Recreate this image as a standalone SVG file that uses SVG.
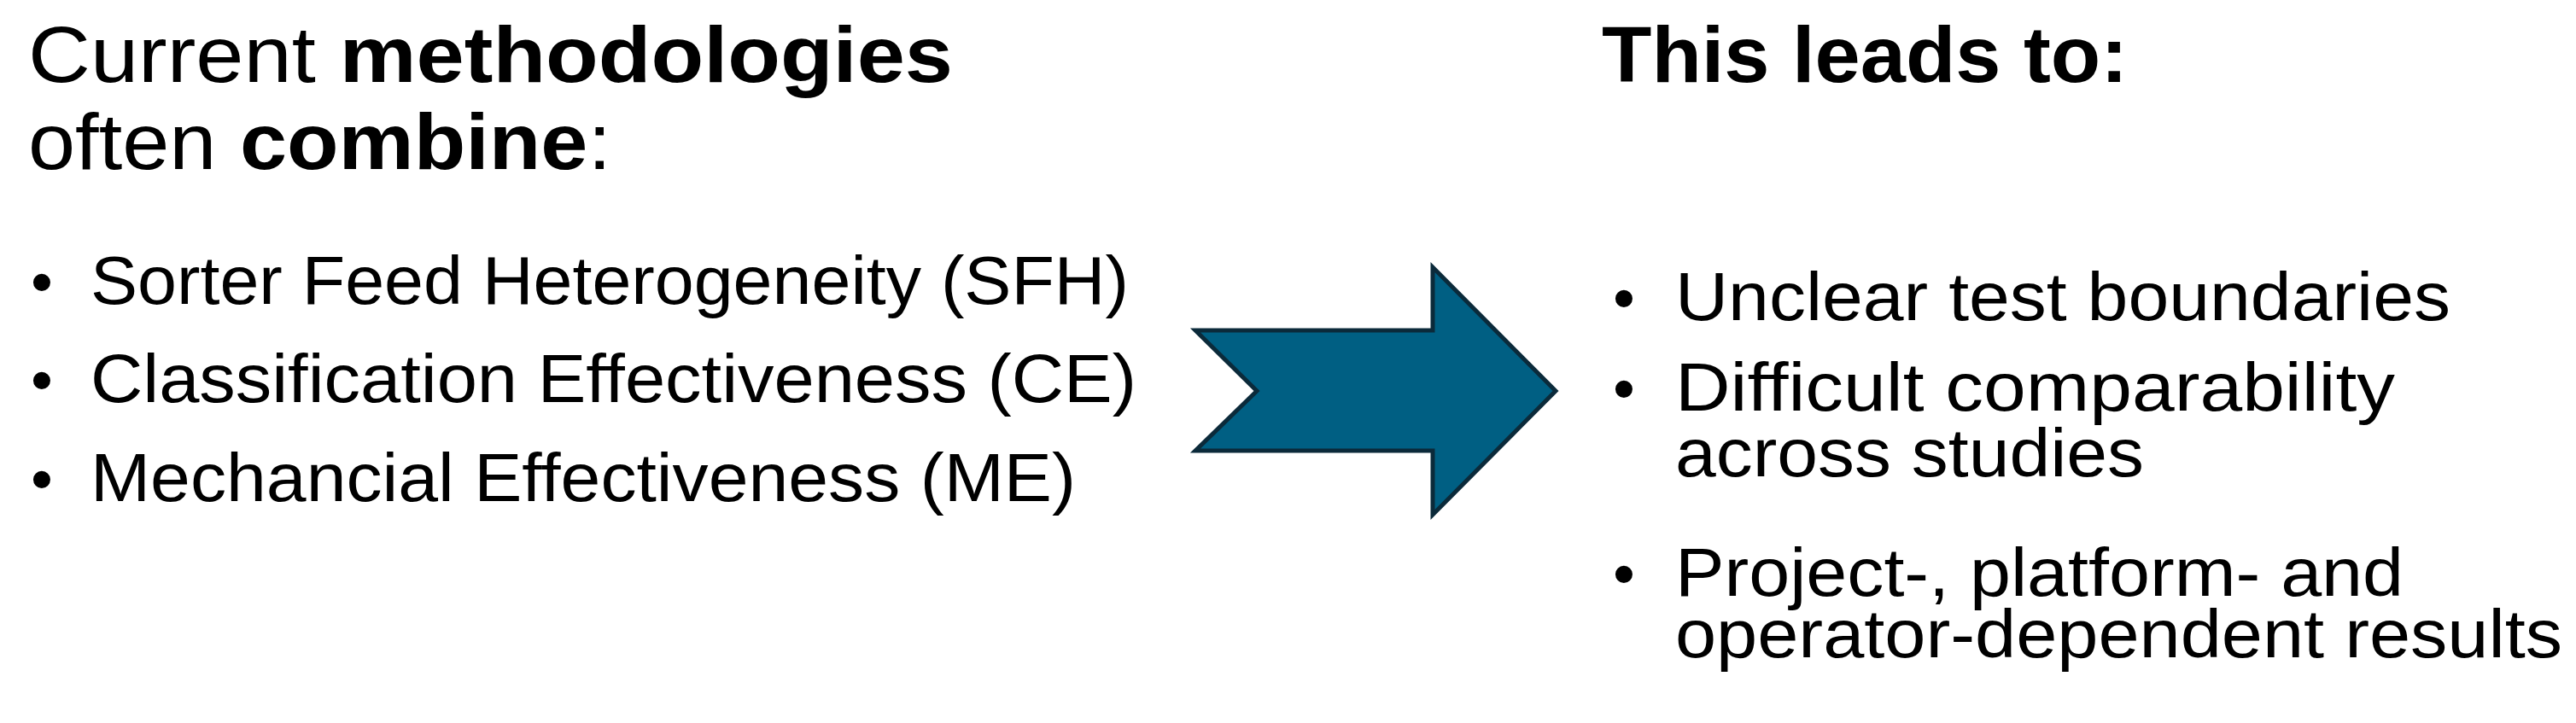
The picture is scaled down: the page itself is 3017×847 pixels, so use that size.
<svg xmlns="http://www.w3.org/2000/svg" width="3017" height="847" viewBox="0 0 3017 847">
<style>
text{font-family:"Liberation Sans","Noto Sans",sans-serif;fill:#000}
.h{font-size:92px}
.b{font-weight:bold}
.t{font-size:80px}
.dot{font-size:74px}
</style>
<rect width="3017" height="847" fill="#fff"/>
<g id="left">
<text class="h" x="33" y="96" textLength="1083" lengthAdjust="spacingAndGlyphs">Current <tspan class="b">methodologies</tspan></text>
<text class="h" x="33" y="198" textLength="683" lengthAdjust="spacingAndGlyphs">often <tspan class="b">combine</tspan>:</text>
<text class="dot" x="36" y="356">•</text>
<text class="t" x="106" y="356" textLength="1216" lengthAdjust="spacingAndGlyphs">Sorter Feed Heterogeneity (SFH)</text>
<text class="dot" x="36" y="471">•</text>
<text class="t" x="106" y="471" textLength="1225" lengthAdjust="spacingAndGlyphs">Classification Effectiveness (CE)</text>
<text class="dot" x="36" y="587">•</text>
<text class="t" x="106" y="587" textLength="1154" lengthAdjust="spacingAndGlyphs">Mechancial Effectiveness (ME)</text>
</g>
<g id="connectors">
<polygon id="arrow" points="1400,387 1678,387 1678,313 1822,458 1678,603 1678,528 1400,528 1472,458" fill="#005F83" stroke="#0B2A3A" stroke-width="5" stroke-linejoin="miter"/>
</g>
<g id="right">
<text class="h b" x="1876" y="96" textLength="616" lengthAdjust="spacingAndGlyphs">This leads to:</text>
<text class="dot" x="1889" y="375">•</text>
<text class="t" x="1962" y="375" textLength="908" lengthAdjust="spacingAndGlyphs">Unclear test boundaries</text>
<text class="dot" x="1889" y="481">•</text>
<text class="t" x="1962" y="481" textLength="843" lengthAdjust="spacingAndGlyphs">Difficult comparability</text>
<text class="t" x="1962" y="558" textLength="549" lengthAdjust="spacingAndGlyphs">across studies</text>
<text class="dot" x="1889" y="698">•</text>
<text class="t" x="1962" y="698" textLength="853" lengthAdjust="spacingAndGlyphs">Project-, platform- and</text>
<text class="t" x="1962" y="770" textLength="1039" lengthAdjust="spacingAndGlyphs">operator-dependent results</text>
</g>
</svg>
